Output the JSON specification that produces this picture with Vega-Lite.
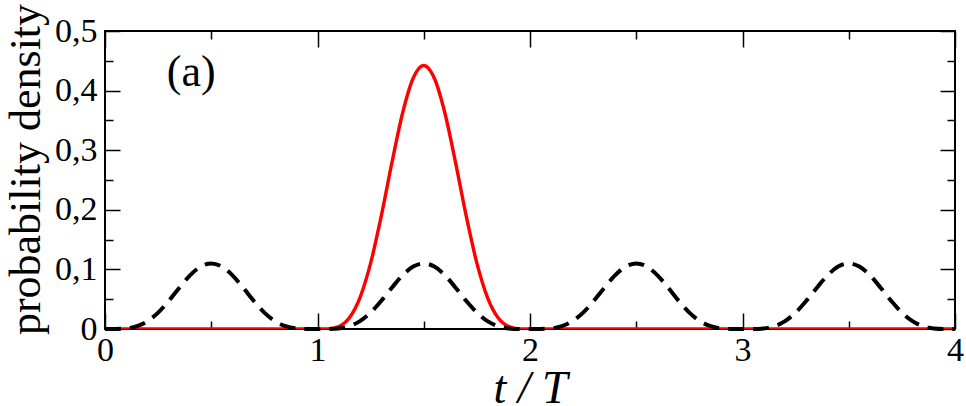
{
  "$schema": "https://vega.github.io/schema/vega-lite/v6.json",
  "width": 850,
  "height": 298,
  "autosize": {"type": "none"},
  "padding": {"left": 105, "top": 31, "right": 11, "bottom": 77},
  "background": "white",
  "config": {
    "view": {"stroke": "black", "strokeWidth": 2},
    "font": "Liberation Serif",
    "axis": {"grid": false, "domain": false, "labelFont": "Liberation Serif", "titleFont": "Liberation Serif", "labelColor": "black", "titleColor": "black", "tickColor": "black", "tickWidth": 1.5}
  },
  "datasets": {
    "curves": [
      {"t": 0.00, "d": 0, "r": 0},
      {"t": 0.05, "d": 0.000066, "r": 0},
      {"t": 0.10, "d": 0.001003, "r": 0},
      {"t": 0.15, "d": 0.004673, "r": 0},
      {"t": 0.20, "d": 0.01313, "r": 0},
      {"t": 0.25, "d": 0.0275, "r": 0},
      {"t": 0.30, "d": 0.047122, "r": 0},
      {"t": 0.35, "d": 0.069329, "r": 0},
      {"t": 0.40, "d": 0.089995, "r": 0},
      {"t": 0.45, "d": 0.104682, "r": 0},
      {"t": 0.50, "d": 0.11, "r": 0},
      {"t": 0.55, "d": 0.104682, "r": 0},
      {"t": 0.60, "d": 0.089995, "r": 0},
      {"t": 0.65, "d": 0.069329, "r": 0},
      {"t": 0.70, "d": 0.047122, "r": 0},
      {"t": 0.75, "d": 0.0275, "r": 0},
      {"t": 0.80, "d": 0.01313, "r": 0},
      {"t": 0.85, "d": 0.004673, "r": 0},
      {"t": 0.90, "d": 0.001003, "r": 0},
      {"t": 0.95, "d": 0.000066, "r": 0},
      {"t": 1.00, "d": 0, "r": 0},
      {"t": 1.05, "d": 0.000066, "r": 0.000265},
      {"t": 1.10, "d": 0.001003, "r": 0.004031},
      {"t": 1.15, "d": 0.004673, "r": 0.018776},
      {"t": 1.20, "d": 0.01313, "r": 0.052759},
      {"t": 1.25, "d": 0.0275, "r": 0.1105},
      {"t": 1.30, "d": 0.047122, "r": 0.189344},
      {"t": 1.35, "d": 0.069329, "r": 0.278578},
      {"t": 1.40, "d": 0.089995, "r": 0.361616},
      {"t": 1.45, "d": 0.104682, "r": 0.420637},
      {"t": 1.50, "d": 0.11, "r": 0.442},
      {"t": 1.55, "d": 0.104682, "r": 0.420637},
      {"t": 1.60, "d": 0.089995, "r": 0.361616},
      {"t": 1.65, "d": 0.069329, "r": 0.278578},
      {"t": 1.70, "d": 0.047122, "r": 0.189344},
      {"t": 1.75, "d": 0.0275, "r": 0.1105},
      {"t": 1.80, "d": 0.01313, "r": 0.052759},
      {"t": 1.85, "d": 0.004673, "r": 0.018776},
      {"t": 1.90, "d": 0.001003, "r": 0.004031},
      {"t": 1.95, "d": 0.000066, "r": 0.000265},
      {"t": 2.00, "d": 0, "r": 0},
      {"t": 2.05, "d": 0.000066, "r": 0},
      {"t": 2.10, "d": 0.001003, "r": 0},
      {"t": 2.15, "d": 0.004673, "r": 0},
      {"t": 2.20, "d": 0.01313, "r": 0},
      {"t": 2.25, "d": 0.0275, "r": 0},
      {"t": 2.30, "d": 0.047122, "r": 0},
      {"t": 2.35, "d": 0.069329, "r": 0},
      {"t": 2.40, "d": 0.089995, "r": 0},
      {"t": 2.45, "d": 0.104682, "r": 0},
      {"t": 2.50, "d": 0.11, "r": 0},
      {"t": 2.55, "d": 0.104682, "r": 0},
      {"t": 2.60, "d": 0.089995, "r": 0},
      {"t": 2.65, "d": 0.069329, "r": 0},
      {"t": 2.70, "d": 0.047122, "r": 0},
      {"t": 2.75, "d": 0.0275, "r": 0},
      {"t": 2.80, "d": 0.01313, "r": 0},
      {"t": 2.85, "d": 0.004673, "r": 0},
      {"t": 2.90, "d": 0.001003, "r": 0},
      {"t": 2.95, "d": 0.000066, "r": 0},
      {"t": 3.00, "d": 0, "r": 0},
      {"t": 3.05, "d": 0.000066, "r": 0},
      {"t": 3.10, "d": 0.001003, "r": 0},
      {"t": 3.15, "d": 0.004673, "r": 0},
      {"t": 3.20, "d": 0.01313, "r": 0},
      {"t": 3.25, "d": 0.0275, "r": 0},
      {"t": 3.30, "d": 0.047122, "r": 0},
      {"t": 3.35, "d": 0.069329, "r": 0},
      {"t": 3.40, "d": 0.089995, "r": 0},
      {"t": 3.45, "d": 0.104682, "r": 0},
      {"t": 3.50, "d": 0.11, "r": 0},
      {"t": 3.55, "d": 0.104682, "r": 0},
      {"t": 3.60, "d": 0.089995, "r": 0},
      {"t": 3.65, "d": 0.069329, "r": 0},
      {"t": 3.70, "d": 0.047122, "r": 0},
      {"t": 3.75, "d": 0.0275, "r": 0},
      {"t": 3.80, "d": 0.01313, "r": 0},
      {"t": 3.85, "d": 0.004673, "r": 0},
      {"t": 3.90, "d": 0.001003, "r": 0},
      {"t": 3.95, "d": 0.000066, "r": 0},
      {"t": 4.00, "d": 0, "r": 0}
    ],
    "label": [{"t": 0.406, "v": 0.4077, "txt": "(a)"}]
  },
  "resolve": {"axis": {"x": "independent", "y": "independent"}},
  "layer": [
    {
      "data": {"name": "curves"},
      "mark": {"type": "line", "color": "#ff0000", "strokeWidth": 3.4, "interpolate": "monotone", "clip": true},
      "encoding": {
        "x": {"field": "t", "type": "quantitative", "scale": {"domain": [0, 4], "nice": false, "zero": false},
          "axis": {"orient": "bottom", "values": [0, 0.5, 1, 1.5, 2, 2.5, 3, 3.5, 4],
            "tickSize": {"condition": {"test": "datum.value % 1 === 0", "value": -16}, "value": -8},
            "labelExpr": "datum.value % 1 === 0 ? format(datum.value, 'd') : ''",
            "labelFontSize": 34, "labelPadding": 20, "labelFlush": false, "labelOverlap": false,
            "title": "t / T", "titleFontSize": 46, "titleFontStyle": "italic", "titleFontWeight": "normal",
            "titleBaseline": "alphabetic", "titleY": 73}},
        "y": {"field": "r", "type": "quantitative", "scale": {"domain": [0, 0.5], "nice": false},
          "axis": {"orient": "left", "values": [0, 0.05, 0.1, 0.15, 0.2, 0.25, 0.3, 0.35, 0.4, 0.45, 0.5],
            "tickSize": {"condition": {"test": "abs(datum.value*10 - round(datum.value*10)) < 0.01", "value": -15}, "value": -8},
            "labelExpr": "abs(datum.value*10 - round(datum.value*10)) < 0.01 ? (datum.value == 0 ? '0' : replace(format(datum.value, '.1f'), '.', ',')) : ''",
            "labelFontSize": 34, "labelPadding": 23, "labelFlush": false, "labelOverlap": false,
            "title": "probability density", "titleFontSize": 44, "titleFontWeight": "normal",
            "titleBaseline": "alphabetic", "titleAngle": -90, "titleX": -66, "titleY": 138}}
      }
    },
    {
      "data": {"name": "curves"},
      "mark": {"type": "line", "color": "black", "strokeWidth": 4, "strokeDash": [16, 9], "interpolate": "monotone"},
      "encoding": {
        "x": {"field": "t", "type": "quantitative",
          "axis": {"orient": "top", "values": [0, 0.5, 1, 1.5, 2, 2.5, 3, 3.5, 4],
            "tickSize": {"condition": {"test": "datum.value % 1 === 0", "value": -16}, "value": -8},
            "labels": false, "title": null}},
        "y": {"field": "d", "type": "quantitative",
          "axis": {"orient": "right", "values": [0, 0.05, 0.1, 0.15, 0.2, 0.25, 0.3, 0.35, 0.4, 0.45, 0.5],
            "tickSize": {"condition": {"test": "abs(datum.value*10 - round(datum.value*10)) < 0.01", "value": -15}, "value": -8},
            "labels": false, "title": null}}
      }
    },
    {
      "data": {"name": "label"},
      "mark": {"type": "text", "font": "Liberation Serif", "fontSize": 44, "color": "black", "align": "center", "baseline": "alphabetic"},
      "encoding": {
        "x": {"field": "t", "type": "quantitative", "axis": null},
        "y": {"field": "v", "type": "quantitative", "axis": null},
        "text": {"field": "txt"}
      }
    }
  ]
}
